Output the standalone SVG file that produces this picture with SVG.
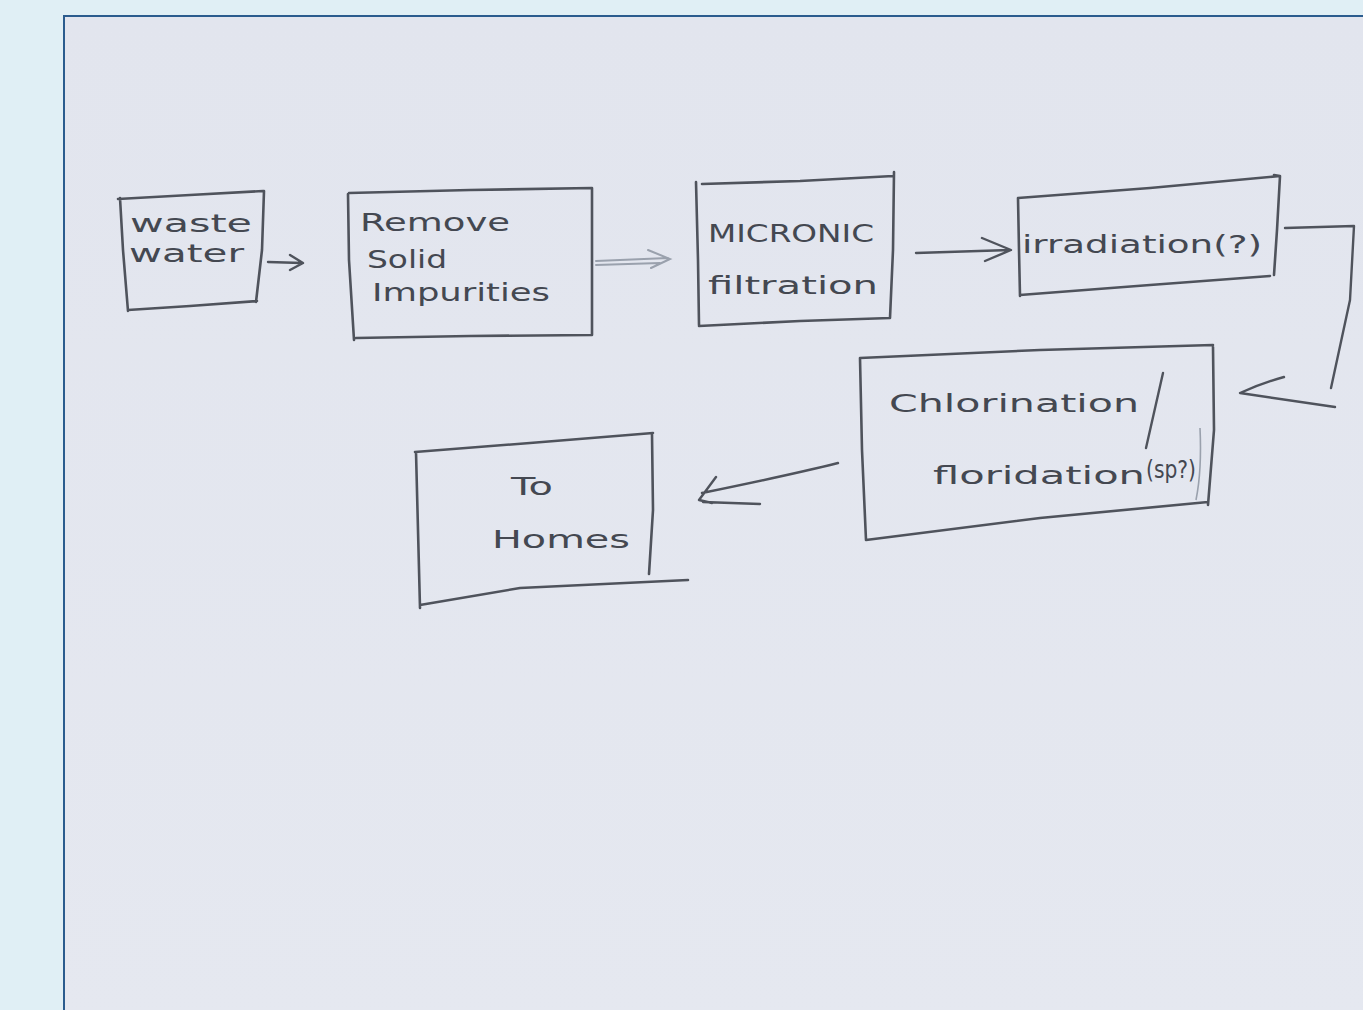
<svg xmlns="http://www.w3.org/2000/svg" width="1363" height="1010" viewBox="0 0 1363 1010">
  <defs>
    <style>
      .box { fill: none; stroke: #4f535c; stroke-width: 2.6; stroke-linecap: round; stroke-linejoin: round; }
      .wire { fill: none; stroke: #4f535c; stroke-width: 2.4; stroke-linecap: round; stroke-linejoin: round; }
      .faint { fill: none; stroke: #9aa1ad; stroke-width: 2; stroke-linecap: round; }
      .hand { font-family: "DejaVu Sans", "Liberation Sans", sans-serif; fill: #444851; font-size: 25px; }
    </style>
    <linearGradient id="paper" x1="0" y1="0" x2="0" y2="1">
      <stop offset="0" stop-color="#e2e5ee"/>
      <stop offset="1" stop-color="#e5e8f0"/>
    </linearGradient>
  </defs>

  <!-- page and photo frame -->
  <rect x="0" y="0" width="1363" height="1010" fill="#e0eff5"/>
  <rect x="64" y="16" width="1310" height="1010" fill="url(#paper)" stroke="#2b5c8e" stroke-width="2"/>

  <!-- nodes -->
  <g id="node-waste-water">
    <path class="box" d="M118,199 L190,195 L263,191 M120,198 L123,250 L128,311 M128,310 L190,306 L257,301 M264,191 L262,250 L256,302"/>
    <text class="hand" x="130" y="232" textLength="122" lengthAdjust="spacingAndGlyphs">waste</text>
    <text class="hand" x="129" y="262" textLength="115" lengthAdjust="spacingAndGlyphs">water</text>
  </g>

  <g id="node-remove-solid">
    <path class="box" d="M349,193 L470,190 L592,188 M348,194 L349,260 L354,340 M356,338 L470,336 L592,335 M592,188 L592,260 L592,335"/>
    <text class="hand" x="360" y="231" textLength="150" lengthAdjust="spacingAndGlyphs">Remove</text>
    <text class="hand" x="367" y="268" textLength="80" lengthAdjust="spacingAndGlyphs">Solid</text>
    <text class="hand" x="372" y="301" textLength="178" lengthAdjust="spacingAndGlyphs">Impurities</text>
  </g>

  <g id="node-micronic">
    <path class="box" d="M702,184 L800,181 L893,176 M696,182 L698,260 L699,325 M699,326 L800,321 L890,318 M894,172 L893,250 L890,318"/>
    <text class="hand" x="708" y="242" textLength="166" lengthAdjust="spacingAndGlyphs">MICRONIC</text>
    <text class="hand" x="708" y="294" textLength="170" lengthAdjust="spacingAndGlyphs">filtration</text>
  </g>

  <g id="node-irradiation">
    <path class="box" d="M1018,198 L1150,188 L1280,176 M1018,198 L1019,250 L1020,296 M1020,295 L1150,285 L1270,276 M1274,175 L1280,176 L1277,230 L1274,275"/>
    <text class="hand" x="1022" y="253" textLength="240" lengthAdjust="spacingAndGlyphs">irradiation(?)</text>
  </g>

  <g id="node-chlorination">
    <path class="box" d="M860,358 L1040,350 L1213,345 M860,358 L862,450 L866,540 M866,540 L1040,518 L1208,502 M1213,347 L1214,430 L1208,505"/>
    <text class="hand" x="889" y="412" textLength="250" lengthAdjust="spacingAndGlyphs" font-size="28">Chlorination</text>
    <path class="wire" d="M1163,373 L1146,448" stroke-width="2"/>
    <text class="hand" x="933" y="484" textLength="212" lengthAdjust="spacingAndGlyphs" font-size="28">floridation</text>
    <text class="hand" x="1146" y="478" font-size="17" fill="#a4aab4" textLength="50" lengthAdjust="spacingAndGlyphs">(sp?)</text>
    <path d="M1200,428 Q1202,470 1196,500" fill="none" stroke="#9aa1ad" stroke-width="1.6"/>
  </g>

  <g id="node-to-homes">
    <path class="box" d="M415,452 L530,443 L653,433 M416,452 L418,530 L420,608 M420,605 L520,588 L688,580 M652,434 L653,510 L649,574"/>
    <text class="hand" x="511" y="495" font-size="30" textLength="42" lengthAdjust="spacingAndGlyphs">To</text>
    <text class="hand" x="492" y="548" font-size="30" textLength="138" lengthAdjust="spacingAndGlyphs">Homes</text>
  </g>

  <!-- connectors -->
  <g id="connectors">
    <!-- waste water to removal -->
    <path class="wire" d="M268,262 L302,263 M290,255 L303,263 L290,270"/>
    <!-- removal to micronic (faint) -->
    <path class="faint" d="M596,261 L668,258 M596,265 L660,263 M648,250 L670,259 L651,268"/>
    <!-- micronic to irradiation -->
    <path class="wire" d="M916,253 L1010,250 M982,238 L1011,250 L985,261"/>
    <!-- irradiation down to chlorination -->
    <path class="wire" d="M1285,228 L1354,226 L1350,300 L1331,388 M1335,407 L1240,393 Q1262,383 1284,377"/>
    <!-- chlorination to homes -->
    <path class="wire" d="M838,463 Q790,475 702,493 M716,477 L699,500 L712,503 M703,502 L760,504"/>
  </g>
</svg>
